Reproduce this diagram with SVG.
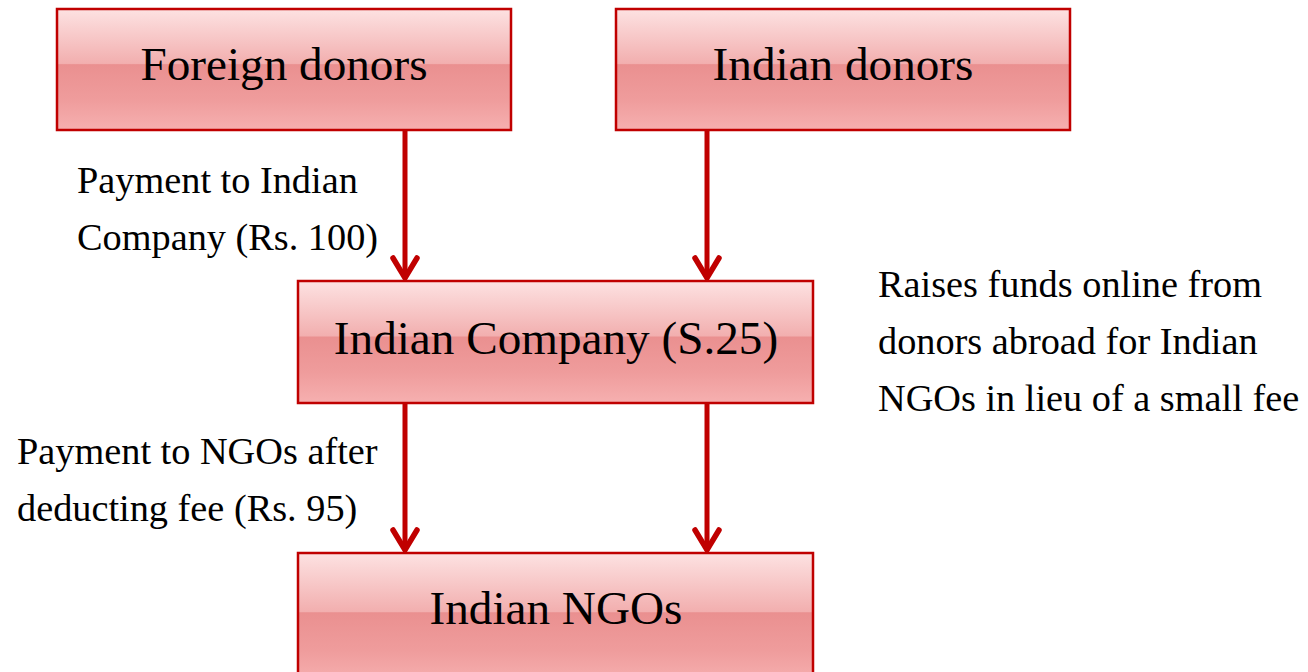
<svg xmlns="http://www.w3.org/2000/svg" width="1308" height="672" viewBox="0 0 1308 672">
<defs>
<linearGradient id="g" x1="0" y1="0" x2="0" y2="1">
<stop offset="0" stop-color="#fde2e2"/>
<stop offset="0.45" stop-color="#f2afaf"/>
<stop offset="0.46" stop-color="#ea9090"/>
<stop offset="0.75" stop-color="#ef9c9c"/>
<stop offset="1" stop-color="#f6b0b0"/>
</linearGradient>
</defs>
<style>
.box{fill:url(#g);stroke:#c00000;stroke-width:2.5}
.bt{font-family:"Liberation Serif",serif;font-size:47.2px;fill:#000;text-anchor:middle}
.lt{font-family:"Liberation Serif",serif;font-size:38.3px;fill:#000}
.ln{stroke:#c00000;stroke-width:5;fill:none}
.hd{stroke:#c00000;stroke-width:5.5;fill:none;stroke-linecap:round;stroke-linejoin:miter}
</style>
<g id="connectors">
<line class="ln" x1="405" y1="131" x2="405" y2="278"/>
<polyline class="hd" points="393,258 405,278 417,258"/>
<line class="ln" x1="707" y1="131" x2="707" y2="278"/>
<polyline class="hd" points="695,258 707,278 719,258"/>
<line class="ln" x1="405" y1="404" x2="405" y2="550"/>
<polyline class="hd" points="393,530 405,550 417,530"/>
<line class="ln" x1="707" y1="404" x2="707" y2="550"/>
<polyline class="hd" points="695,530 707,550 719,530"/>
</g>
<g id="foreign-donors">
<rect class="box" x="57" y="9" width="454" height="121"/>
<text class="bt" x="284" y="80">Foreign donors</text>
</g>
<g id="indian-donors">
<rect class="box" x="616" y="9" width="454" height="121"/>
<text class="bt" x="843" y="80">Indian donors</text>
</g>
<g id="indian-company">
<rect class="box" x="298" y="281" width="515" height="122"/>
<text class="bt" x="556" y="354">Indian Company (S.25)</text>
</g>
<g id="indian-ngos">
<rect class="box" x="298" y="553" width="515" height="130"/>
<text class="bt" x="556" y="624">Indian NGOs</text>
</g>
<g id="labels">
<text class="lt" x="77" y="193">Payment to Indian</text>
<text class="lt" x="77" y="250">Company (Rs. 100)</text>
<text class="lt" x="17" y="464">Payment to NGOs after</text>
<text class="lt" x="17" y="521">deducting fee (Rs. 95)</text>
<text class="lt" x="878" y="297">Raises funds online from</text>
<text class="lt" x="878" y="354">donors abroad for Indian</text>
<text class="lt" x="878" y="411">NGOs in lieu of a small fee</text>
</g>
</svg>
